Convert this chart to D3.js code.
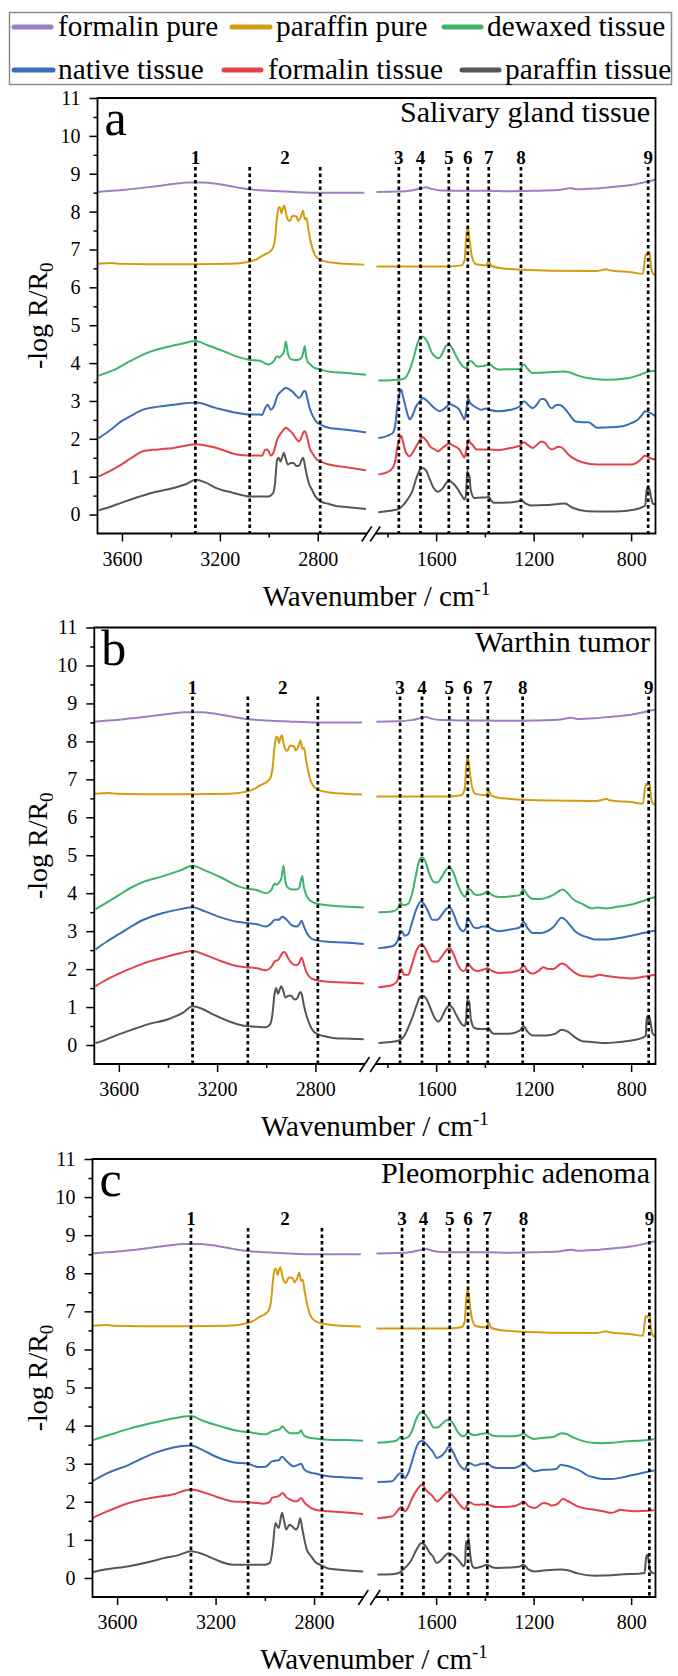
<!DOCTYPE html>
<html><head><meta charset="utf-8">
<script src="https://cdn.jsdelivr.net/npm/d3@7"></script>
<style>
body{margin:0;background:#fff}
svg{display:block}
svg text, svg tspan{font-family:"Liberation Serif","Times New Roman",serif}
</style>
</head><body>
<svg id="chart" width="678" height="1676"></svg>
<script>
// ---------------- DATA ----------------
const seriesNames = ["formalin pure","paraffin pure","dewaxed tissue","native tissue","formalin tissue","paraffin tissue"];
const seriesColors = ["#9f7dc4","#d29d10","#3cb46e","#3b6db8","#e4424a","#555555"];
const panelLetters = ["a","b","c"];
const panelTitles = ["Salivary gland tissue","Warthin tumor","Pleomorphic adenoma"];
const yTickValues = [0,1,2,3,4,5,6,7,8,9,10,11];
const yMinorValues = [0.5,1.5,2.5,3.5,4.5,5.5,6.5,7.5,8.5,9.5,10.5];
const xTicksLeft = [3600,3200,2800];
const xMinorLeft = [3400,3000];
const xTicksRight = [1600,1200,800];
const xMinorRight = [1800,1400,1000];
const peakLabels = ["1","2","3","4","5","6","7","8","9"];
const markersLeft = [[3300,3078,2790],[3300,3075,2790],[3300,3068,2768]];
const markersRight = [[1753,1664,1548,1470,1384,1252,730],[1748,1658,1546,1470,1388,1245,728],[1740,1652,1544,1469,1390,1242,725]];

const formalinPureL = [[3700,8.52],[3600,8.57],[3500,8.64],[3400,8.72],[3330,8.77],[3270,8.77],[3200,8.72],[3130,8.64],[3080,8.59],[3000,8.55],[2900,8.52],[2800,8.5],[2700,8.5],[2610,8.5]];
const formalinPureR = [[1845,8.52],[1760,8.53],[1700,8.56],[1660,8.62],[1640,8.64],[1620,8.6],[1580,8.56],[1500,8.55],[1400,8.55],[1300,8.54],[1200,8.55],[1100,8.57],[1060,8.61],[1045,8.62],[1020,8.59],[950,8.61],[880,8.65],[800,8.7],[740,8.78],[700,8.84]];
const paraffinPureL = [[3700,6.62],[3640,6.64],[3610,6.62],[3500,6.61],[3300,6.61],[3150,6.62],[3086,6.67],[3050,6.74],[3025,6.84],[2995,6.95],[2983,7.04],[2974,7.3],[2968,7.75],[2960,8.1],[2955,8.12],[2948,7.96],[2942,8.1],[2937,8.16],[2931,8.0],[2925,7.83],[2914,7.75],[2903,7.89],[2887,7.87],[2880,7.76],[2870,7.85],[2860,8.02],[2853,7.8],[2846,7.83],[2839,7.56],[2826,7.12],[2812,6.86],[2791,6.73],[2750,6.66],[2710,6.63],[2650,6.61],[2610,6.6]];
const paraffinPureR = [[1845,6.55],[1700,6.55],[1544,6.55],[1496,6.58],[1483,6.73],[1477,7.3],[1470,7.6],[1463,7.25],[1452,6.78],[1436,6.61],[1395,6.58],[1384,6.7],[1374,6.57],[1326,6.5],[1135,6.44],[943,6.43],[900,6.48],[890,6.45],[800,6.4],[752,6.36],[740,6.88],[733,6.85],[725,6.93],[718,6.5],[710,6.36],[700,6.33]];

const aDewaxedL = [[3695,3.67],[3640,3.8],[3567,4.05],[3497,4.27],[3420,4.42],[3350,4.52],[3300,4.58],[3250,4.47],[3180,4.3],[3120,4.15],[3081,4.09],[3037,4.06],[3001,3.96],[2980,4.05],[2966,4.18],[2957,4.15],[2948,4.2],[2938,4.3],[2930,4.57],[2922,4.25],[2913,4.12],[2895,4.08],[2877,4.09],[2865,4.15],[2857,4.35],[2853,4.45],[2848,4.2],[2840,4.02],[2833,3.98],[2815,3.88],[2789,3.83],[2750,3.77],[2683,3.74],[2603,3.69]];
const aDewaxedR = [[1837,3.54],[1780,3.55],[1735,3.58],[1708,3.83],[1690,4.2],[1675,4.55],[1662,4.7],[1650,4.68],[1635,4.55],[1620,4.3],[1600,4.15],[1590,4.13],[1575,4.25],[1560,4.45],[1548,4.49],[1535,4.4],[1515,4.15],[1495,3.95],[1480,3.87],[1474,3.87],[1466,4.05],[1456,4.05],[1440,3.95],[1430,3.91],[1400,3.93],[1381,3.96],[1360,3.87],[1345,3.83],[1290,3.84],[1257,3.84],[1240,3.96],[1225,3.85],[1204,3.74],[1150,3.75],[1080,3.78],[1050,3.75],[1027,3.69],[950,3.58],[903,3.56],[815,3.6],[760,3.7],[727,3.78],[700,3.8]];
const aNativeL = [[3695,2.02],[3650,2.22],[3603,2.46],[3560,2.62],[3514,2.77],[3450,2.85],[3390,2.9],[3298,2.96],[3214,2.81],[3125,2.68],[3081,2.64],[3037,2.64],[3028,2.63],[3015,2.81],[3005,2.9],[2992,2.77],[2980,2.85],[2966,3.12],[2950,3.25],[2930,3.34],[2915,3.3],[2904,3.25],[2890,3.15],[2877,3.08],[2866,3.15],[2858,3.25],[2851,3.26],[2842,3.05],[2833,2.81],[2820,2.6],[2807,2.46],[2780,2.35],[2754,2.29],[2683,2.24],[2603,2.17]];
const aNativeR = [[1837,2.02],[1800,2.08],[1779,2.15],[1768,2.35],[1761,2.77],[1750,3.2],[1744,3.3],[1735,3.1],[1726,2.86],[1715,2.6],[1708,2.51],[1695,2.65],[1682,2.86],[1665,3.0],[1656,3.08],[1640,3.02],[1629,2.95],[1605,2.8],[1585,2.73],[1560,2.83],[1544,2.92],[1530,2.88],[1505,2.77],[1492,2.6],[1484,2.51],[1475,2.8],[1469,3.08],[1461,2.95],[1452,2.9],[1434,2.82],[1416,2.77],[1395,2.8],[1381,2.77],[1346,2.73],[1293,2.77],[1257,2.86],[1240,2.99],[1220,2.88],[1204,2.81],[1185,2.92],[1169,3.05],[1160,3.05],[1148,3.0],[1135,2.85],[1125,2.81],[1110,2.88],[1098,2.9],[1080,2.85],[1060,2.7],[1027,2.46],[1000,2.44],[974,2.44],[960,2.38],[939,2.29],[903,2.3],[868,2.31],[830,2.34],[797,2.42],[770,2.52],[750,2.68],[744,2.73],[727,2.7],[700,2.6]];
const aFormalinL = [[3695,1.01],[3650,1.15],[3603,1.32],[3560,1.5],[3514,1.67],[3450,1.72],[3390,1.76],[3298,1.86],[3214,1.76],[3125,1.58],[3081,1.56],[3037,1.56],[3028,1.55],[3015,1.71],[3005,1.72],[2992,1.56],[2980,1.65],[2966,1.98],[2950,2.15],[2930,2.29],[2915,2.22],[2904,2.15],[2890,2.02],[2877,1.93],[2866,2.05],[2858,2.18],[2852,2.2],[2842,2.0],[2833,1.76],[2820,1.6],[2803,1.45],[2780,1.38],[2754,1.32],[2683,1.25],[2603,1.17]];
const aFormalinR = [[1837,1.06],[1800,1.12],[1779,1.23],[1768,1.4],[1761,1.72],[1750,2.0],[1744,2.08],[1735,1.9],[1726,1.67],[1715,1.56],[1708,1.54],[1695,1.65],[1682,1.8],[1665,1.98],[1656,2.05],[1640,1.95],[1625,1.8],[1600,1.7],[1594,1.67],[1570,1.78],[1547,1.87],[1530,1.82],[1505,1.72],[1492,1.58],[1484,1.5],[1475,1.75],[1467,1.98],[1460,1.9],[1452,1.85],[1434,1.72],[1400,1.72],[1381,1.72],[1346,1.7],[1300,1.75],[1257,1.82],[1240,1.91],[1220,1.82],[1204,1.76],[1185,1.85],[1169,1.93],[1155,1.9],[1135,1.75],[1125,1.72],[1098,1.79],[1080,1.75],[1060,1.6],[1027,1.45],[1000,1.38],[939,1.32],[868,1.32],[797,1.32],[770,1.4],[750,1.52],[744,1.56],[727,1.5],[700,1.45]];
const aParaffinL = [[3695,0.11],[3650,0.2],[3603,0.31],[3540,0.45],[3479,0.57],[3390,0.7],[3340,0.8],[3298,0.92],[3260,0.85],[3214,0.7],[3150,0.58],[3100,0.5],[3081,0.48],[3037,0.48],[3001,0.48],[2984,0.55],[2975,0.8],[2966,1.45],[2960,1.5],[2952,1.4],[2946,1.5],[2939,1.63],[2932,1.5],[2922,1.32],[2910,1.36],[2899,1.36],[2886,1.28],[2875,1.3],[2866,1.45],[2860,1.5],[2854,1.35],[2847,1.1],[2835,0.8],[2824,0.66],[2810,0.48],[2789,0.35],[2754,0.28],[2718,0.22],[2683,0.2],[2603,0.15]];
const aParaffinR = [[1837,0.06],[1790,0.1],[1753,0.15],[1735,0.25],[1715,0.42],[1699,0.6],[1680,0.98],[1665,1.2],[1656,1.23],[1640,1.15],[1629,0.98],[1610,0.7],[1594,0.6],[1575,0.68],[1560,0.82],[1548,0.9],[1530,0.82],[1514,0.7],[1495,0.5],[1484,0.4],[1478,0.5],[1472,1.15],[1468,0.98],[1464,1.05],[1458,0.65],[1443,0.44],[1416,0.45],[1395,0.45],[1385,0.48],[1375,0.38],[1363,0.31],[1300,0.32],[1262,0.35],[1252,0.38],[1230,0.28],[1211,0.24],[1150,0.25],[1098,0.28],[1073,0.29],[1040,0.18],[979,0.09],[903,0.08],[841,0.09],[797,0.12],[752,0.2],[742,0.24],[736,0.7],[731,0.62],[726,0.7],[718,0.45],[712,0.3],[700,0.26]];

const bDewaxedL = [[3695,3.58],[3650,3.75],[3600,3.95],[3550,4.15],[3500,4.3],[3420,4.45],[3350,4.6],[3300,4.72],[3250,4.6],[3180,4.4],[3120,4.2],[3081,4.12],[3037,4.08],[3001,4.0],[2980,4.08],[2966,4.25],[2957,4.22],[2948,4.28],[2938,4.4],[2930,4.72],[2922,4.3],[2913,4.15],[2895,4.1],[2877,4.1],[2865,4.15],[2857,4.4],[2853,4.45],[2848,4.2],[2840,4.0],[2833,3.9],[2815,3.78],[2789,3.72],[2750,3.68],[2683,3.65],[2603,3.62]];
const bDewaxedR = [[1837,3.5],[1780,3.52],[1760,3.58],[1745,3.75],[1735,3.68],[1715,3.72],[1700,3.95],[1685,4.4],[1670,4.85],[1658,4.95],[1645,4.85],[1630,4.55],[1610,4.3],[1595,4.28],[1575,4.45],[1555,4.65],[1545,4.68],[1530,4.55],[1510,4.2],[1495,4.0],[1480,3.9],[1470,4.1],[1460,4.1],[1445,3.98],[1430,3.95],[1400,4.0],[1390,4.05],[1370,3.95],[1345,3.9],[1290,3.92],[1257,3.95],[1242,4.1],[1225,3.95],[1204,3.85],[1170,3.85],[1120,3.95],[1080,4.1],[1060,4.0],[1040,3.85],[1000,3.72],[960,3.6],[940,3.62],[900,3.6],[850,3.65],[800,3.7],[750,3.8],[727,3.85],[700,3.9]];
const bNativeL = [[3695,2.52],[3650,2.72],[3600,2.92],[3550,3.12],[3500,3.3],[3420,3.48],[3350,3.58],[3300,3.63],[3250,3.52],[3180,3.35],[3120,3.25],[3081,3.22],[3037,3.18],[3001,3.12],[2980,3.2],[2966,3.3],[2950,3.3],[2935,3.38],[2925,3.35],[2910,3.25],[2895,3.15],[2877,3.12],[2865,3.18],[2856,3.28],[2848,3.15],[2835,2.95],[2815,2.8],[2789,2.75],[2750,2.72],[2683,2.7],[2603,2.66]];
const bNativeR = [[1837,2.55],[1780,2.6],[1760,2.72],[1748,2.95],[1740,3.0],[1730,2.88],[1715,2.92],[1700,3.2],[1680,3.6],[1662,3.78],[1650,3.72],[1635,3.55],[1615,3.3],[1595,3.3],[1575,3.45],[1555,3.6],[1545,3.62],[1530,3.48],[1510,3.15],[1490,3.0],[1480,3.05],[1470,3.35],[1460,3.25],[1445,3.1],[1430,3.08],[1410,3.12],[1390,3.12],[1370,3.05],[1345,3.0],[1290,3.05],[1257,3.1],[1242,3.25],[1225,3.08],[1204,2.95],[1170,2.95],[1120,3.1],[1085,3.35],[1070,3.3],[1050,3.15],[1030,3.0],[1000,2.88],[970,2.82],[950,2.78],[900,2.78],[850,2.82],[800,2.88],[750,2.95],[700,3.02]];
const bFormalinL = [[3695,1.55],[3650,1.72],[3600,1.88],[3550,2.02],[3500,2.15],[3420,2.3],[3350,2.42],[3300,2.48],[3250,2.38],[3180,2.2],[3120,2.08],[3081,2.05],[3037,2.02],[3001,1.97],[2980,2.05],[2966,2.2],[2950,2.25],[2935,2.42],[2925,2.45],[2912,2.3],[2895,2.15],[2877,2.1],[2865,2.18],[2856,2.3],[2848,2.15],[2835,1.9],[2815,1.75],[2789,1.7],[2750,1.67],[2683,1.65],[2603,1.62]];
const bFormalinR = [[1837,1.52],[1780,1.58],[1760,1.68],[1748,1.95],[1742,2.0],[1732,1.85],[1715,1.85],[1700,2.1],[1680,2.5],[1662,2.65],[1650,2.6],[1635,2.42],[1615,2.2],[1595,2.2],[1575,2.35],[1555,2.52],[1545,2.55],[1530,2.42],[1510,2.1],[1490,1.95],[1480,1.98],[1470,2.15],[1460,2.08],[1445,1.98],[1430,1.95],[1400,2.0],[1390,2.02],[1370,1.95],[1345,1.9],[1290,1.92],[1257,1.98],[1242,2.1],[1225,1.95],[1204,1.88],[1180,1.95],[1160,2.05],[1140,2.0],[1120,2.0],[1085,2.15],[1070,2.12],[1050,2.0],[1030,1.9],[1000,1.82],[960,1.8],[930,1.85],[900,1.82],[850,1.78],[800,1.75],[750,1.8],[700,1.85]];
const bParaffinL = [[3695,0.05],[3650,0.15],[3600,0.28],[3540,0.42],[3479,0.55],[3400,0.68],[3340,0.85],[3300,1.02],[3260,0.95],[3214,0.8],[3150,0.62],[3100,0.52],[3081,0.5],[3037,0.48],[3001,0.47],[2984,0.55],[2975,0.8],[2966,1.35],[2960,1.5],[2952,1.35],[2946,1.45],[2939,1.55],[2932,1.45],[2922,1.25],[2910,1.3],[2899,1.3],[2886,1.2],[2875,1.22],[2866,1.35],[2860,1.4],[2854,1.3],[2847,1.05],[2835,0.75],[2824,0.55],[2810,0.38],[2789,0.28],[2754,0.22],[2718,0.18],[2683,0.17],[2603,0.15]];
const bParaffinR = [[1837,0.05],[1790,0.08],[1753,0.12],[1735,0.2],[1715,0.45],[1699,0.7],[1680,1.05],[1665,1.28],[1656,1.3],[1640,1.22],[1625,1.0],[1605,0.7],[1590,0.62],[1575,0.75],[1560,0.95],[1545,1.05],[1530,0.95],[1514,0.75],[1495,0.55],[1484,0.5],[1478,0.6],[1472,1.2],[1468,1.1],[1464,1.15],[1458,0.7],[1443,0.45],[1416,0.42],[1395,0.42],[1385,0.45],[1375,0.35],[1363,0.3],[1300,0.3],[1257,0.38],[1242,0.5],[1225,0.35],[1204,0.25],[1150,0.25],[1110,0.3],[1085,0.4],[1060,0.35],[1030,0.2],[1000,0.1],[960,0.08],[903,0.05],[850,0.08],[797,0.12],[750,0.2],[740,0.25],[736,0.75],[730,0.65],[725,0.75],[718,0.5],[712,0.3],[700,0.25]];

const cDewaxedL = [[3700,3.62],[3650,3.72],[3550,3.92],[3450,4.08],[3380,4.18],[3300,4.25],[3250,4.12],[3180,3.98],[3100,3.85],[3068,3.83],[3020,3.78],[2995,3.77],[2975,3.84],[2955,3.88],[2940,3.9],[2928,3.98],[2915,3.88],[2895,3.8],[2875,3.8],[2860,3.82],[2853,3.88],[2845,3.78],[2830,3.7],[2795,3.66],[2742,3.63],[2671,3.62],[2601,3.6]];
const cDewaxedR = [[1841,3.55],[1780,3.58],[1760,3.62],[1745,3.7],[1735,3.65],[1715,3.7],[1700,3.85],[1680,4.2],[1662,4.35],[1645,4.3],[1625,4.1],[1610,3.95],[1595,3.95],[1575,4.05],[1555,4.15],[1545,4.15],[1530,4.05],[1510,3.82],[1490,3.72],[1480,3.75],[1470,3.82],[1460,3.78],[1440,3.75],[1420,3.78],[1390,3.8],[1370,3.74],[1345,3.72],[1290,3.72],[1255,3.75],[1242,3.8],[1225,3.72],[1200,3.65],[1160,3.68],[1120,3.7],[1085,3.8],[1065,3.78],[1040,3.7],[1000,3.6],[960,3.55],[920,3.54],[880,3.55],[830,3.58],[780,3.6],[730,3.62],[706,3.65]];
const cNativeL = [[3700,2.54],[3650,2.72],[3552,2.97],[3464,3.24],[3376,3.42],[3300,3.48],[3250,3.35],[3200,3.19],[3130,3.04],[3068,3.0],[3024,2.91],[2997,2.92],[2971,3.06],[2944,3.09],[2930,3.18],[2909,3.05],[2883,2.93],[2865,2.97],[2853,3.0],[2839,2.84],[2812,2.76],[2795,2.74],[2742,2.67],[2671,2.64],[2601,2.61]];
const cNativeR = [[1841,2.52],[1780,2.54],[1760,2.68],[1748,2.75],[1740,2.74],[1728,2.62],[1715,2.75],[1701,3.02],[1680,3.45],[1660,3.6],[1645,3.55],[1625,3.4],[1614,3.32],[1597,3.15],[1580,3.2],[1562,3.32],[1548,3.45],[1530,3.3],[1509,3.02],[1488,2.86],[1483,2.84],[1470,3.0],[1465,3.02],[1439,2.95],[1413,3.0],[1390,3.0],[1370,2.92],[1352,2.89],[1282,2.89],[1255,2.95],[1242,3.04],[1220,2.9],[1195,2.8],[1160,2.84],[1142,2.84],[1107,2.86],[1089,2.97],[1070,2.95],[1037,2.89],[1000,2.78],[985,2.71],[950,2.64],[915,2.6],[880,2.6],[828,2.65],[760,2.75],[706,2.82]];
const cFormalinL = [[3700,1.57],[3650,1.72],[3552,1.97],[3464,2.1],[3376,2.19],[3300,2.32],[3250,2.25],[3200,2.14],[3130,2.01],[3068,1.99],[3006,1.95],[2980,2.0],[2971,2.1],[2944,2.15],[2927,2.23],[2913,2.12],[2900,2.07],[2874,2.01],[2865,2.03],[2853,2.1],[2839,1.98],[2830,1.92],[2795,1.79],[2742,1.75],[2671,1.72],[2601,1.68]];
const cFormalinR = [[1841,1.57],[1780,1.62],[1760,1.75],[1748,1.84],[1740,1.86],[1728,1.75],[1715,1.85],[1701,2.06],[1680,2.3],[1658,2.45],[1640,2.3],[1614,2.14],[1597,2.01],[1575,2.12],[1553,2.26],[1530,2.15],[1509,1.97],[1488,1.82],[1483,1.81],[1470,1.95],[1465,1.99],[1439,1.92],[1413,1.93],[1387,1.92],[1352,1.86],[1282,1.88],[1255,1.95],[1242,2.01],[1220,1.88],[1195,1.84],[1160,1.97],[1142,1.95],[1125,1.9],[1100,1.95],[1081,2.07],[1060,2.02],[1020,1.88],[985,1.82],[950,1.79],[915,1.75],[880,1.71],[860,1.75],[845,1.79],[820,1.77],[793,1.75],[749,1.76],[706,1.78]];
const cParaffinL = [[3700,0.15],[3650,0.22],[3552,0.31],[3450,0.45],[3411,0.52],[3350,0.6],[3300,0.7],[3250,0.62],[3200,0.48],[3130,0.35],[3068,0.35],[3000,0.35],[2980,0.39],[2968,0.8],[2957,1.44],[2944,1.31],[2930,1.71],[2922,1.5],[2913,1.27],[2900,1.4],[2883,1.32],[2874,1.27],[2865,1.35],[2856,1.57],[2848,1.3],[2839,1.0],[2830,0.75],[2812,0.57],[2795,0.42],[2777,0.35],[2742,0.25],[2707,0.22],[2601,0.17]];
const cParaffinR = [[1841,0.09],[1780,0.1],[1754,0.13],[1736,0.22],[1715,0.35],[1701,0.48],[1680,0.75],[1660,0.92],[1645,0.85],[1625,0.65],[1614,0.57],[1597,0.39],[1575,0.5],[1550,0.65],[1540,0.64],[1520,0.55],[1500,0.4],[1488,0.31],[1481,0.4],[1478,0.96],[1472,0.85],[1467,1.05],[1460,0.6],[1450,0.3],[1439,0.26],[1413,0.3],[1390,0.35],[1370,0.28],[1352,0.26],[1282,0.28],[1255,0.3],[1242,0.35],[1220,0.22],[1195,0.17],[1150,0.2],[1089,0.22],[1060,0.2],[1020,0.12],[950,0.06],[880,0.07],[845,0.09],[760,0.12],[745,0.13],[738,0.55],[733,0.61],[728,0.45],[723,0.2],[706,0.11]];

const panelSeriesLeft = [
  [formalinPureL, paraffinPureL, aDewaxedL, aNativeL, aFormalinL, aParaffinL],
  [formalinPureL, paraffinPureL, bDewaxedL, bNativeL, bFormalinL, bParaffinL],
  [formalinPureL, paraffinPureL, cDewaxedL, cNativeL, cFormalinL, cParaffinL]];
const panelSeriesRight = [
  [formalinPureR, paraffinPureR, aDewaxedR, aNativeR, aFormalinR, aParaffinR],
  [formalinPureR, paraffinPureR, bDewaxedR, bNativeR, bFormalinR, bParaffinR],
  [formalinPureR, paraffinPureR, cDewaxedR, cNativeR, cFormalinR, cParaffinR]];

// ---------------- LAYOUT ----------------
const FONT = '"Liberation Serif", "Times New Roman", serif';
const svg = d3.select("#chart");
const domainLeft = [3700, 2600], domainRight = [1850, 700], domainY = [-0.5, 11];
const layout = [
  {top: 98,    bottom: 533.5, left: 97.5, leftEnd: 366.7},
  {top: 627.5, bottom: 1064,  left: 94.3, leftEnd: 364.5},
  {top: 1159,  bottom: 1597,  left: 92.5, leftEnd: 363.3}];
const rightStart = 375.2, rightEnd = 655.5;

function styleAxis(g, size) {
  g.select(".domain").remove();
  g.attr("font-size", size);
  g.selectAll("line").attr("stroke", "#000").attr("stroke-width", 1.5);
  g.selectAll("text").attr("font-size", size).attr("fill", "#000");
}

layout.forEach((L, p) => {
  const g = svg.append("g");
  const xL = d3.scaleLinear().domain(domainLeft).range([L.left, L.leftEnd]);
  const xR = d3.scaleLinear().domain(domainRight).range([rightStart, rightEnd]);
  const y = d3.scaleLinear().domain(domainY).range([L.bottom, L.top]);

  const lineL = d3.line().x(d => xL(d[0])).y(d => y(d[1])).curve(d3.curveMonotoneX);
  const lineR = d3.line().x(d => xR(d[0])).y(d => y(d[1])).curve(d3.curveMonotoneX);
  seriesNames.forEach((name, i) => {
    [[lineL, panelSeriesLeft[p][i]], [lineR, panelSeriesRight[p][i]]].forEach(([ln, data]) => {
      g.append("path").attr("d", ln(data)).attr("fill", "none")
        .attr("stroke", seriesColors[i]).attr("stroke-width", 2).attr("stroke-linejoin", "round");
    });
  });

  const mx = markersLeft[p].map(w => xL(w)).concat(markersRight[p].map(w => xR(w)));
  mx.forEach(x => {
    g.append("line").attr("x1", x).attr("x2", x).attr("y1", L.top + 69).attr("y2", L.bottom)
      .attr("stroke", "#000").attr("stroke-width", 2.7).attr("stroke-dasharray", "3.5,3");
  });
  const lx = [mx[0], (mx[1] + mx[2]) / 2].concat(mx.slice(3));
  peakLabels.forEach((t, i) => {
    g.append("text").attr("x", lx[i]).attr("y", L.top + 66).attr("text-anchor", "middle")
      .attr("font-weight", "bold").attr("font-size", 19).text(t);
  });

  g.append("path")
    .attr("d", `M${L.leftEnd},${L.bottom}H${L.left}V${L.top}H${rightEnd}V${L.bottom}H${rightStart}`)
    .attr("fill", "none").attr("stroke", "#000").attr("stroke-width", 1.8);
  [L.leftEnd, rightStart].forEach(cx => {
    g.append("line").attr("x1", cx - 5).attr("y1", L.bottom + 8).attr("x2", cx + 5).attr("y2", L.bottom - 7)
      .attr("stroke", "#000").attr("stroke-width", 1.6);
  });

  const bx = g.append("g").attr("transform", `translate(0,${L.bottom})`);
  bx.append("g").call(d3.axisBottom(xL).tickValues(xTicksLeft).tickSize(8).tickPadding(10).tickFormat(d3.format("d"))).call(a => styleAxis(a, 20));
  bx.append("g").call(d3.axisBottom(xL).tickValues(xMinorLeft).tickSize(4).tickFormat("")).call(a => styleAxis(a, 20));
  bx.append("g").call(d3.axisBottom(xR).tickValues(xTicksRight).tickSize(8).tickPadding(10).tickFormat(d3.format("d"))).call(a => styleAxis(a, 20));
  bx.append("g").call(d3.axisBottom(xR).tickValues(xMinorRight).tickSize(4).tickFormat("")).call(a => styleAxis(a, 20));
  const ly = g.append("g").attr("transform", `translate(${L.left},0)`);
  ly.append("g").call(d3.axisLeft(y).tickValues(yTickValues).tickSize(8).tickPadding(9)).call(a => styleAxis(a, 20));
  ly.append("g").call(d3.axisLeft(y).tickValues(yMinorValues).tickSize(4).tickFormat("")).call(a => styleAxis(a, 20));

  g.append("text").attr("x", L.left + 7).attr("y", L.top + 37).attr("font-size", 50).text(panelLetters[p]);
  g.append("text").attr("x", 650).attr("y", L.top + 24).attr("text-anchor", "end").attr("font-size", 30).text(panelTitles[p]);

  const xt = g.append("text").attr("x", (L.left + rightEnd) / 2).attr("y", L.bottom + 72)
    .attr("text-anchor", "middle").attr("font-size", 29);
  xt.append("tspan").text("Wavenumber / cm");
  xt.append("tspan").attr("font-size", 19).attr("dy", -11).text("-1");
  const yt = g.append("text").attr("transform", `translate(47,${(L.top + L.bottom) / 2}) rotate(-90)`)
    .attr("text-anchor", "middle").attr("font-size", 28);
  yt.append("tspan").text("-log R/R");
  yt.append("tspan").attr("font-size", 19).attr("dy", 6).text("0");
});

// ---------------- LEGEND ----------------
const lg = svg.append("g");
lg.append("rect").attr("x", 9.5).attr("y", 12.5).attr("width", 662).attr("height", 72)
  .attr("fill", "#fff").attr("stroke", "#8a8a8a").attr("stroke-width", 1.5);
const legendSlots = [[12, 53, 58, 27, 36], [230, 272, 276, 27, 36], [442, 483, 487, 27, 36],
                     [12, 55, 58, 70, 78.5], [222, 263, 268, 70, 78.5], [460, 501, 505, 70, 78.5]];
seriesNames.forEach((name, i) => {
  const s = legendSlots[i];
  lg.append("line").attr("x1", s[0] + 2).attr("x2", s[1] - 2).attr("y1", s[3]).attr("y2", s[3])
    .attr("stroke", seriesColors[i]).attr("stroke-width", 5).attr("stroke-linecap", "round");
  lg.append("text").attr("x", s[2]).attr("y", s[4]).attr("font-size", 29.3).text(name);
});

// force the serif face on every text node (inline style wins over inherited defaults)
svg.selectAll("text, tspan").attr("font-family", FONT).style("font-family", FONT);
</script>
</body></html>
